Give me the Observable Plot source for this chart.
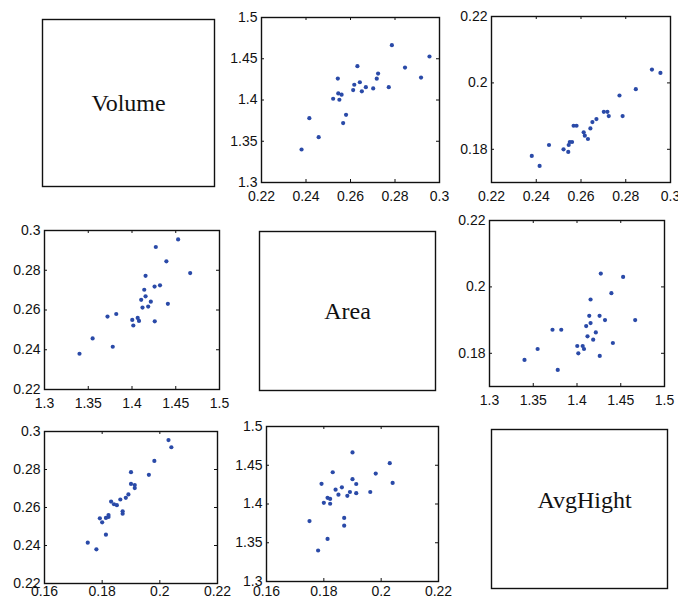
<!DOCTYPE html>
<html>
<head>
<meta charset="utf-8">
<script src="https://cdn.jsdelivr.net/npm/d3@7"></script>
<script src="https://cdn.jsdelivr.net/npm/@observablehq/plot@0.6"></script>
<style>
  body { margin: 0; background: #fff; }
  #chart { position: relative; width: 678px; height: 602px; background: #fff; overflow: hidden; }
  #chart > svg, #chart > figure { position: absolute; margin: 0; }
</style>
</head>
<body>
<div id="chart"></div>
<script>
// Variable names
const names = ["Volume", "Area", "AvgHight"];

const volume = [0.2380, 0.2415, 0.2457, 0.2522, 0.2543, 0.2545, 0.2550, 0.2560,
                0.2567, 0.2580, 0.2612, 0.2617, 0.2631, 0.2642, 0.2651, 0.2669,
                0.2702, 0.2718, 0.2724, 0.2772, 0.2786, 0.2845, 0.2917, 0.2955];
const area   = [1.3400, 1.3780, 1.3550, 1.4015, 1.4260, 1.4080, 1.4003, 1.4065,
                1.3720, 1.3820, 1.4120, 1.4185, 1.4410, 1.4215, 1.4105, 1.4155,
                1.4140, 1.4258, 1.4320, 1.4155, 1.4665, 1.4393, 1.4272, 1.4527];
const avgHight = [0.1780, 0.1750, 0.1813, 0.1800, 0.1792, 0.1813, 0.1822, 0.1822,
                  0.1871, 0.1871, 0.1851, 0.1841, 0.1831, 0.1863, 0.1882, 0.1891,
                  0.1913, 0.1913, 0.1900, 0.1962, 0.1900, 0.1981, 0.2040, 0.2030];

// Axis domains and tick labels
const volumeDomain = [0.22, 0.3];
const volumeTicks = [0.22, 0.24, 0.26, 0.28, 0.3];
const areaDomain = [1.3, 1.5];
const areaTicks = [1.3, 1.35, 1.4, 1.45, 1.5];
const avgHightDomainX = [0.16, 0.22];
const avgHightTicksX = [0.16, 0.18, 0.2, 0.22];
const avgHightDomainY = [0.17, 0.22];
const avgHightTicksY = [0.18, 0.2, 0.22];

const rows = volume.map((v, i) => ({Volume: v, Area: area[i], AvgHight: avgHight[i]}));

const scaleX = {
  Volume: {domain: volumeDomain, ticks: volumeTicks},
  Area: {domain: areaDomain, ticks: areaTicks},
  AvgHight: {domain: avgHightDomainX, ticks: avgHightTicksX}
};
const scaleY = {
  Volume: {domain: volumeDomain, ticks: volumeTicks},
  Area: {domain: areaDomain, ticks: areaTicks},
  AvgHight: {domain: avgHightDomainY, ticks: avgHightTicksY}
};

const fmt = d => String(+d.toFixed(4));
const chart = document.getElementById("chart");
const dotColor = "#2a4aa8";

// Panel layout: frame rectangle [x0, y0, x1, y1] in page pixels
const panels = [
  {row: 0, col: 0, frame: [42, 19, 214, 186]},
  {row: 0, col: 1, frame: [261, 17, 439, 182], xPad: 9},
  {row: 0, col: 2, frame: [491, 16, 670, 182], xPad: 9},
  {row: 1, col: 0, frame: [44, 230, 219, 389], xPad: 9},
  {row: 1, col: 1, frame: [259, 231, 435, 390]},
  {row: 1, col: 2, frame: [489, 220, 664, 386], xPad: 9},
  {row: 2, col: 0, frame: [44, 431, 217, 583], xPad: 3},
  {row: 2, col: 1, frame: [266, 426, 438, 581], xPad: 5},
  {row: 2, col: 2, frame: [491, 429, 667, 588], dx: 5, dy: -9}
];

const mL = 44, mR = 14, mT = 10, mB = 26;

for (const p of panels) {
  const [x0, y0, x1, y1] = p.frame;
  const w = x1 - x0, h = y1 - y0;
  let svg;
  if (p.row === p.col) {
    svg = Plot.plot({
      width: w + mL + mR, height: h + mT + mB,
      marginLeft: mL, marginRight: mR, marginTop: mT, marginBottom: mB,
      style: {background: "transparent", overflow: "visible"},
      marks: [
        Plot.frame({stroke: "#111", strokeWidth: 1.4}),
        Plot.text([names[p.row]], {
          frameAnchor: "middle", text: d => d,
          fontFamily: "'Liberation Serif', 'DejaVu Serif', serif",
          fontSize: 24, fill: "#111", dx: p.dx || 0, dy: p.dy || 0
        })
      ]
    });
  } else {
    // rows: variable on x, columns: variable on y
    const xVar = names[p.row], yVar = names[p.col];
    const xs = scaleX[xVar], ys = scaleY[yVar];
    svg = Plot.plot({
      width: w + mL + mR, height: h + mT + mB,
      marginLeft: mL, marginRight: mR, marginTop: mT, marginBottom: mB,
      style: {background: "transparent", overflow: "visible",
              fontFamily: "'Liberation Sans', Arial, sans-serif", fontSize: "14px", color: "#111"},
      x: {domain: xs.domain, label: null},
      y: {domain: ys.domain, label: null},
      marks: [
        Plot.axisX(xs.ticks, {tickSize: 0, tickPadding: p.xPad, tickFormat: fmt, label: null, fontSize: 14, fill: "#111"}),
        Plot.axisY(ys.ticks, {tickSize: 0, tickPadding: 4, tickFormat: fmt, label: null, fontSize: 14, fill: "#111"}),
        Plot.ruleX(xs.ticks, {insetTop: h - 3, stroke: "#111"}),
        Plot.ruleX(xs.ticks, {insetBottom: h - 3, stroke: "#111"}),
        Plot.ruleY(ys.ticks, {insetRight: w - 3, stroke: "#111"}),
        Plot.ruleY(ys.ticks, {insetLeft: w - 3, stroke: "#111"}),
        Plot.dot(rows, {x: xVar, y: yVar, r: 2.1, fill: dotColor, stroke: null}),
        Plot.frame({stroke: "#111", strokeWidth: 1.4})
      ]
    });
  }
  svg.style.left = (x0 - mL) + "px";
  svg.style.top = (y0 - mT) + "px";
  chart.appendChild(svg);
}
</script>
</body>
</html>
